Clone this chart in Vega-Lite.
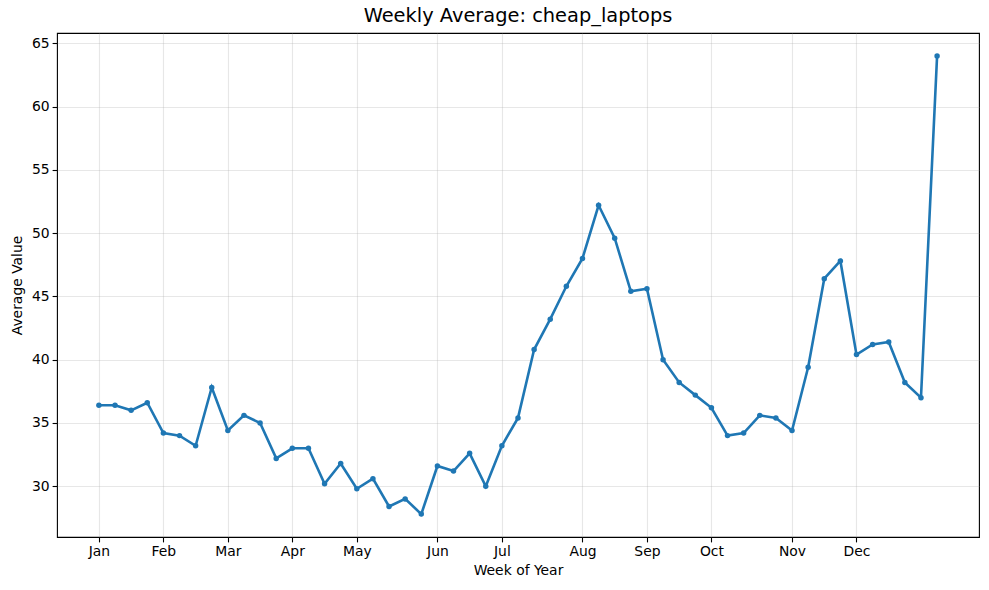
{
  "$schema": "https://vega.github.io/schema/vega-lite/v6.json",
  "width": 922,
  "height": 504,
  "autosize": {"type": "none"},
  "padding": {"left": 57, "top": 33, "right": 10, "bottom": 53},
  "background": "white",
  "title": {"text": "Weekly Average: cheap_laptops", "font": "DejaVu Sans", "fontSize": 19.4, "fontWeight": "normal", "color": "black", "offset": 7},
  "config": {
    "view": {"stroke": "black", "strokeWidth": 1.1},
    "axis": {
      "labelFont": "DejaVu Sans", "labelFontSize": 13.9, "labelColor": "black",
      "titleFont": "DejaVu Sans", "titleFontSize": 13.9, "titleFontWeight": "normal", "titleColor": "black",
      "tickColor": "black", "tickSize": 4.9, "tickWidth": 1.1, "domain": false,
      "gridColor": "#b0b0b0", "gridOpacity": 0.3, "gridWidth": 1.1
    }
  },
  "data": {"values": [
    {"week": 1, "value": 36.4}, {"week": 2, "value": 36.4}, {"week": 3, "value": 36.0}, {"week": 4, "value": 36.6},
    {"week": 5, "value": 34.2}, {"week": 6, "value": 34.0}, {"week": 7, "value": 33.2}, {"week": 8, "value": 37.8},
    {"week": 9, "value": 34.4}, {"week": 10, "value": 35.6}, {"week": 11, "value": 35.0}, {"week": 12, "value": 32.2},
    {"week": 13, "value": 33.0}, {"week": 14, "value": 33.0}, {"week": 15, "value": 30.2}, {"week": 16, "value": 31.8},
    {"week": 17, "value": 29.8}, {"week": 18, "value": 30.6}, {"week": 19, "value": 28.4}, {"week": 20, "value": 29.0},
    {"week": 21, "value": 27.8}, {"week": 22, "value": 31.6}, {"week": 23, "value": 31.2}, {"week": 24, "value": 32.6},
    {"week": 25, "value": 30.0}, {"week": 26, "value": 33.2}, {"week": 27, "value": 35.4}, {"week": 28, "value": 40.8},
    {"week": 29, "value": 43.2}, {"week": 30, "value": 45.8}, {"week": 31, "value": 48.0}, {"week": 32, "value": 52.2},
    {"week": 33, "value": 49.6}, {"week": 34, "value": 45.4}, {"week": 35, "value": 45.6}, {"week": 36, "value": 40.0},
    {"week": 37, "value": 38.2}, {"week": 38, "value": 37.2}, {"week": 39, "value": 36.2}, {"week": 40, "value": 34.0},
    {"week": 41, "value": 34.2}, {"week": 42, "value": 35.6}, {"week": 43, "value": 35.4}, {"week": 44, "value": 34.4},
    {"week": 45, "value": 39.4}, {"week": 46, "value": 46.4}, {"week": 47, "value": 47.8}, {"week": 48, "value": 40.4},
    {"week": 49, "value": 41.2}, {"week": 50, "value": 41.4}, {"week": 51, "value": 38.2}, {"week": 52, "value": 37.0},
    {"week": 53, "value": 64.0}
  ]},
  "mark": {"type": "line", "color": "#1f77b4", "strokeWidth": 2.6, "point": {"filled": true, "size": 30, "color": "#1f77b4", "opacity": 1}},
  "encoding": {
    "x": {
      "field": "week", "type": "quantitative", "title": "Week of Year",
      "scale": {"domain": [-1.6, 55.6], "nice": false, "zero": false},
      "axis": {
        "values": [1, 5, 9, 13, 17, 22, 26, 31, 35, 39, 44, 48],
        "labelExpr": "{'1':'Jan','5':'Feb','9':'Mar','13':'Apr','17':'May','22':'Jun','26':'Jul','31':'Aug','35':'Sep','39':'Oct','44':'Nov','48':'Dec'}[datum.value + '']",
        "labelPadding": 3, "titlePadding": 5
      }
    },
    "y": {
      "field": "value", "type": "quantitative", "title": "Average Value",
      "scale": {"domain": [25.99, 65.81], "nice": false, "zero": false},
      "axis": {"values": [30, 35, 40, 45, 50, 55, 60, 65], "labelPadding": 3, "titlePadding": 7}
    }
  }
}
